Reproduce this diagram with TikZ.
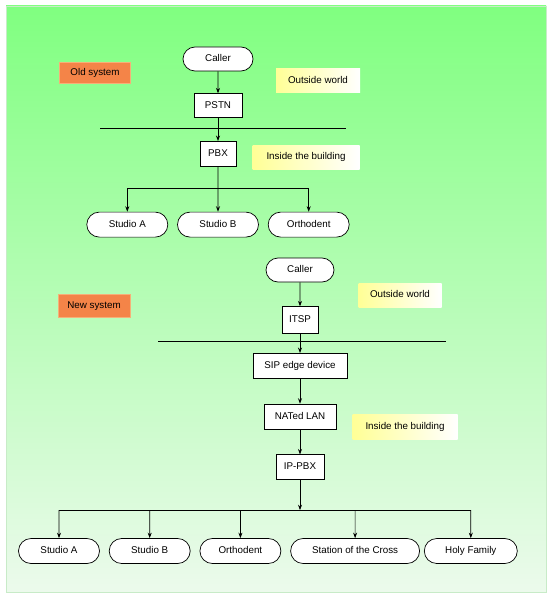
\documentclass[tikz,border=0pt]{standalone}
\usepackage{fontspec}
\setmainfont{Liberation Sans}
\usepackage{tikz}
\usetikzlibrary{arrows.meta,positioning,shapes.misc}

\definecolor{bgtop}{RGB}{128,255,128}
\definecolor{bgbot}{RGB}{236,250,236}
\definecolor{panelline}{RGB}{200,235,200}
\definecolor{sysfill}{RGB}{244,132,72}
\definecolor{sysline}{RGB}{246,176,120}
\definecolor{notefill}{RGB}{255,255,150}

\begin{document}
\begin{tikzpicture}[
      x=1pt, y=-1pt,
      node distance=22pt and 12pt,
      >={Stealth[length=5.5pt,width=4pt]},
      font=\fontsize{9.8}{11}\selectfont,
      every node/.style={text height=7pt, text depth=2pt},
      term/.style={draw, line width=0.7pt, rounded rectangle, fill=white,
        minimum height=25pt, minimum width=85pt, inner sep=2pt},
      box/.style={draw, line width=0.7pt, fill=white, minimum height=25pt,
        inner sep=2pt},
      sysnote/.style={draw=sysline, fill=sysfill, minimum height=21pt,
        minimum width=71pt},
      areanote/.style={left color=notefill, right color=white,
        minimum height=24pt},
      flow/.style={->, line width=0.7pt}
    ]
    \useasboundingbox (0,0) rectangle (552,599);
    \shade[top color=bgtop, bottom color=bgbot, draw=panelline] (6,6) rectangle (546,592);

    % old system
    \node[term, minimum width=74pt, minimum height=24pt] (caller1) at (218,59) {Caller};
    \node[box, below=of caller1, minimum width=48pt, minimum height=24pt] (pstn) {PSTN};
    \node[box, below=23pt of pstn, minimum width=36pt] (pbx) {PBX};
    \node[term, below=45pt of pbx] (studioB1) {Studio B};
    \node[term, left=9pt of studioB1] (studioA1) {Studio A};
    \node[term, right=9pt of studioB1] (orth1) {Orthodent};
    \node[sysnote] (oldsys) at (95,73) {Old system};
    \node[areanote, minimum width=84pt] (outside1) at (318,81) {Outside world};
    \node[areanote, minimum width=107pt] (inside1) at (306,157) {Inside the building};
    \coordinate (cut1w) at (100,128);
    \coordinate (cut1e) at (346,128);
    \coordinate[below=22pt of pbx] (bus1);

    \draw[flow] (caller1) -- (pstn);
    \draw[flow] (pstn) -- (pbx);
    \draw[line width=0.7pt] (cut1w) -- (cut1e);
    \draw[flow] (pbx) -- (studioB1);
    \draw[flow] (bus1) -| (studioA1);
    \draw[flow] (bus1) -| (orth1);

    % new system
    \node[term, minimum width=72pt, minimum height=24pt] (caller2) at (300,270) {Caller};
    \node[box, below=24pt of caller2, minimum width=36pt, minimum height=27pt] (itsp) {ITSP};
    \node[box, below=19pt of itsp, minimum width=94pt] (sip) {SIP edge device};
    \node[box, below=25pt of sip, minimum width=72pt] (nat) {NATed LAN};
    \node[box, below=25pt of nat, minimum width=48pt] (ippbx) {IP-PBX};
    \node[term] (studioA2) at (59,551) {Studio A};
    \node[term, right=9pt of studioA2] (studioB2) {Studio B};
    \node[term, right=9pt of studioB2] (orth2) {Orthodent};
    \node[term, right=9pt of orth2, minimum width=133pt] (station) {Station of the Cross};
    \node[term, right=4pt of station, minimum width=97pt] (holy) {Holy Family};
    \node[sysnote, minimum width=72pt, minimum height=23pt] (newsys) at (94,306) {New system};
    \node[areanote, minimum width=83pt] (outside2) at (400,295) {Outside world};
    \node[areanote, minimum width=105pt, minimum height=25pt] (inside2) at (405,427) {Inside the building};
    \coordinate (cut2w) at (158,341);
    \coordinate (cut2e) at (446,341);
    \coordinate[below=30pt of ippbx] (bus2);

    \draw[flow] (caller2) -- (itsp);
    \draw[flow] (itsp) -- (sip);
    \draw[line width=0.7pt] (cut2w) -- (cut2e);
    \draw[flow] (sip) -- (nat);
    \draw[flow] (nat) -- (ippbx);
    \draw[flow] (ippbx) -- (bus2);
    \draw[line width=0.7pt] (bus2 -| studioA2) -- (bus2 -| holy);
    \foreach \n in {studioA2,studioB2,orth2,station,holy}
      \draw[flow] (bus2 -| \n) -- (\n);
  \end{tikzpicture}
\end{document}
